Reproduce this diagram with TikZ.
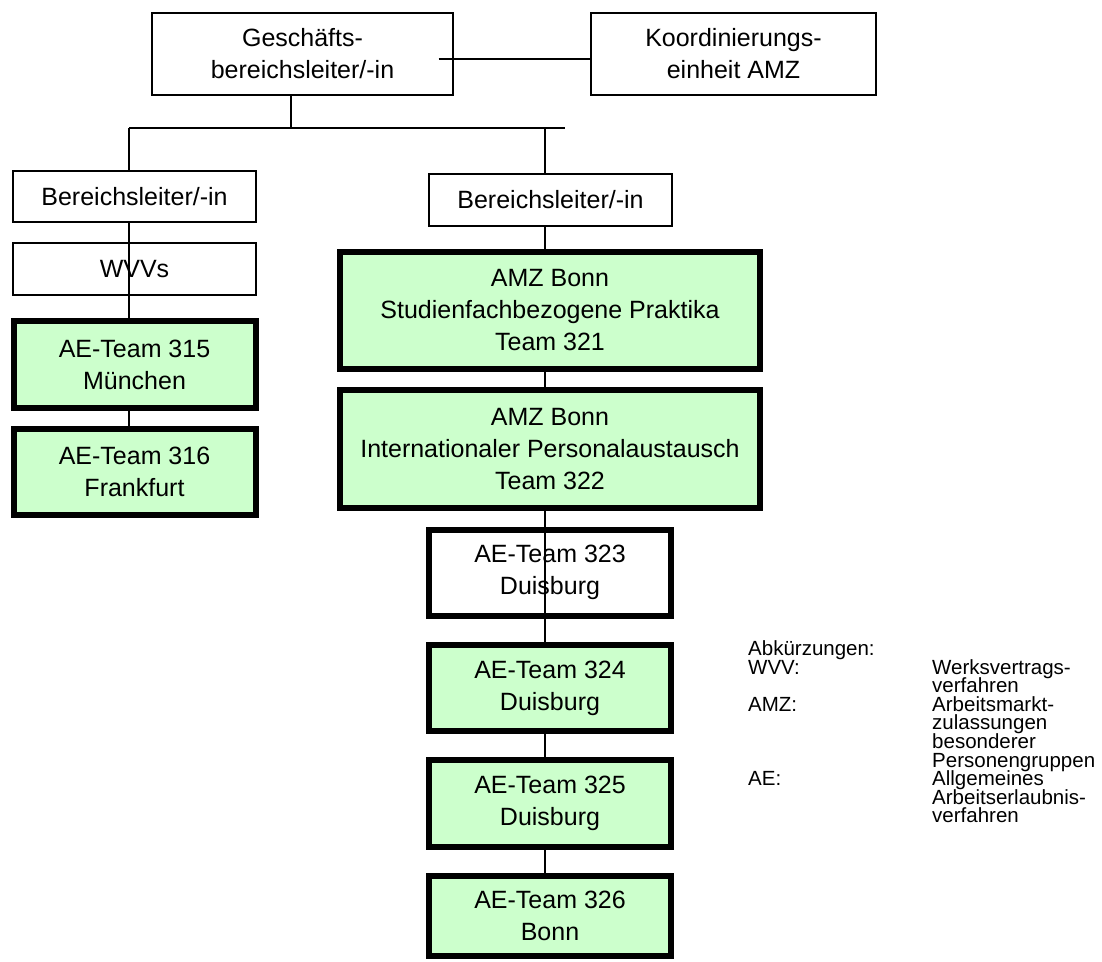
\documentclass[tikz,border=0pt]{standalone}
\usepackage{fontspec}
\setmainfont{Liberation Sans}
\usepackage{tikz}
\usetikzlibrary{calc}
\definecolor{teamgreen}{HTML}{CCFFCC}
\setlength{\lineskiplimit}{-20pt}

\begin{document}
\begin{tikzpicture}[x=1pt,y=-1pt]
        \tikzset{plainbox/.style = {shape=rectangle,draw,line width=1.3pt,fill=white,align=center,inner sep=0pt,
                 font=\fontsize{25}{32}\selectfont}}
        \tikzset{teambox/.style = {plainbox,line width=6pt,fill=teamgreen}}
        \tikzset{edge/.style = {-,line width=1.3pt}}
        \tikzset{legendtext/.style = {anchor=base west,inner sep=0pt,align=left,
                 font=\fontsize{20.5}{18.6}\selectfont}}
        \useasboundingbox (0,0) rectangle (1102,961);

        \node[plainbox,minimum width=301pt,minimum height=82pt] (gbl) at (302.5,54) {Gesch\"afts-\\bereichsleiter/-in};
        \node[plainbox,minimum width=285pt,minimum height=82pt] (koord) at (733.5,54) {Koordinierungs-\\einheit AMZ};

        \node[plainbox,minimum width=243pt,minimum height=51pt] (bl1) at (134.5,196.5) {Bereichsleiter/-in};
        \node[plainbox,minimum width=243pt,minimum height=52pt] (wvv) at (134.5,269) {WVVs};
        \node[teambox,minimum width=242pt,minimum height=87pt] (t315) at (134.5,364.5) {AE-Team 315\\M\"unchen};
        \node[teambox,minimum width=242pt,minimum height=86.5pt] (t316) at (134.5,471.75) {AE-Team 316\\Frankfurt};

        \node[plainbox,minimum width=243pt,minimum height=52pt] (bl2) at (550.5,200) {Bereichsleiter/-in};
        \node[teambox,minimum width=420pt,minimum height=117pt] (t321) at (550,310.5) {AMZ Bonn\\Studienfachbezogene Praktika\\Team 321};
        \node[teambox,minimum width=420pt,minimum height=118pt] (t322) at (550,449) {AMZ Bonn\\Internationaler Personalaustausch\\Team 322};
        \node[teambox,fill=white,minimum width=242pt,minimum height=86.5pt] (t323) at (550,572.75) {AE-Team 323\\Duisburg};
        \node[teambox,minimum width=242pt,minimum height=86.5pt] (t324) at (550,688) {AE-Team 324\\Duisburg};
        \node[teambox,minimum width=242pt,minimum height=86.5pt] (t325) at (550,803.5) {AE-Team 325\\Duisburg};
        \node[teambox,minimum width=242pt,minimum height=80pt] (t326) at (550,916) {AE-Team 326\\Bonn};

        \coordinate (gdown) at (291,95);
        \coordinate (lbus) at (129,128);
        \coordinate (rbus) at (545,128);
        \coordinate (bend) at (565,128);

        \draw[edge] ([xshift=-15pt,yshift=-5pt]gbl.east) to ([yshift=-5pt]koord.west);
        \draw[edge] (gdown) to (gdown |- lbus);
        \draw[edge] (lbus) to (bend);

        \draw[edge] (lbus) to (lbus |- bl1.north);
        \draw[edge] (lbus |- bl1.south) to (lbus |- t315.north);
        \draw[edge] (lbus |- t315.south) to (lbus |- t316.north);

        \draw[edge] (rbus) to (rbus |- bl2.north);
        \draw[edge] (rbus |- bl2.south) to (rbus |- t321.north);
        \draw[edge] (rbus |- t321.south) to (rbus |- t322.north);
        \draw[edge] (rbus |- t322.south) to (rbus |- t324.north);
        \draw[edge] (rbus |- t324.south) to (rbus |- t325.north);
        \draw[edge] (rbus |- t325.south) to (rbus |- t326.north);

        % legend (base anchor sits on the last line)
        \node[legendtext] (abk) at (748,785.6) {Abk\"urzungen:\\WVV:\\[18.6pt]AMZ:\\[55.8pt]AE:};
        \node[legendtext] (expl) at (932,822.8) {Werksvertrags-\\verfahren\\Arbeitsmarkt-\\zulassungen\\besonderer\\Personengruppen\\Allgemeines\\Arbeitserlaubnis-\\verfahren};
      \end{tikzpicture}
\end{document}
